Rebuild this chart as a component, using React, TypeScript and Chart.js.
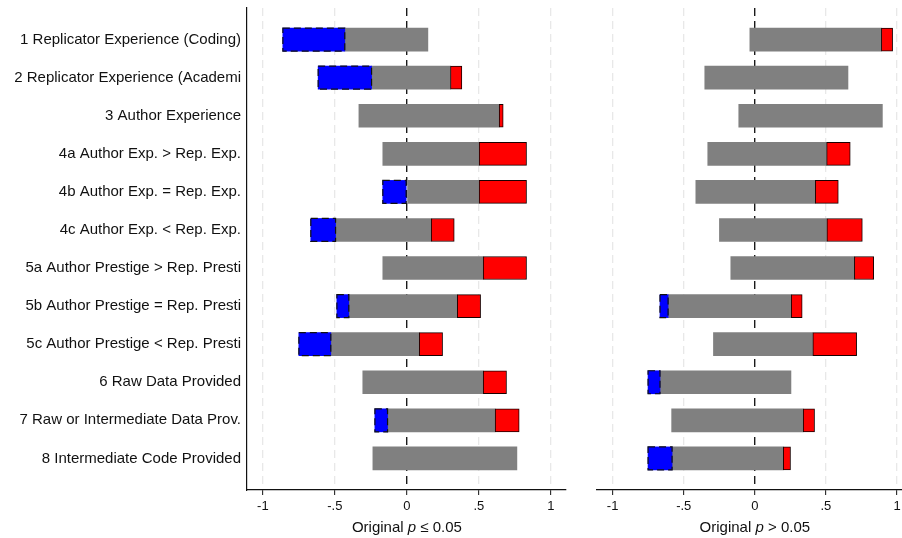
import React, { useEffect, useRef } from "react";
import { Chart, registerables } from "chart.js";

Chart.register(...registerables);

type Range = [number, number] | null;

const categories = [
  "1 Replicator Experience (Coding)",
  "2 Replicator Experience (Academi",
  "3 Author Experience",
  "4a Author Exp. > Rep. Exp.",
  "4b Author Exp. = Rep. Exp.",
  "4c Author Exp. < Rep. Exp.",
  "5a Author Prestige > Rep. Presti",
  "5b Author Prestige = Rep. Presti",
  "5c Author Prestige < Rep. Presti",
  "6 Raw Data Provided",
  "7 Raw or Intermediate Data Prov.",
  "8 Intermediate Code Provided",
];

const xTickValues = [-1, -0.5, 0, 0.5, 1];
const xTickLabels = ["-1", "-.5", "0", ".5", "1"];

// Left panel: Original p <= 0.05
const leftGray: Range[] = [
  [-0.431, 0.146], [-0.245, 0.303], [-0.333, 0.641], [-0.167, 0.502],
  [0.0, 0.502], [-0.495, 0.169], [-0.167, 0.53], [-0.403, 0.35],
  [-0.528, 0.086], [-0.306, 0.53], [-0.134, 0.613], [-0.236, 0.764],
];
const leftBlue: Range[] = [
  [-0.861, -0.431], [-0.616, -0.245], null, null,
  [-0.167, 0.0], [-0.667, -0.495], null, [-0.486, -0.403],
  [-0.75, -0.528], null, [-0.222, -0.134], null,
];
const leftRed: Range[] = [
  null, [0.303, 0.382], [0.641, 0.669], [0.502, 0.831],
  [0.502, 0.831], [0.169, 0.329], [0.53, 0.831], [0.35, 0.512],
  [0.086, 0.248], [0.53, 0.692], [0.613, 0.78], null,
];

// Right panel: Original p > 0.05
const rightGray: Range[] = [
  [-0.035, 0.89], [-0.352, 0.655], [-0.113, 0.897], [-0.331, 0.505],
  [-0.415, 0.425], [-0.249, 0.507], [-0.169, 0.7], [-0.61, 0.256],
  [-0.291, 0.408], [-0.667, 0.254], [-0.585, 0.34], [-0.582, 0.2],
];
const rightBlue: Range[] = [
  null, null, null, null,
  null, null, null, [-0.667, -0.61],
  null, [-0.751, -0.667], null, [-0.751, -0.582],
];
const rightRed: Range[] = [
  [0.89, 0.969], null, null, [0.505, 0.671],
  [0.425, 0.587], [0.507, 0.756], [0.7, 0.836], [0.256, 0.333],
  [0.408, 0.716], null, [0.34, 0.42], [0.2, 0.251],
];

const FONT = "'Liberation Sans', Helvetica, Arial, sans-serif";

const toPoints = (arr: Range[]) =>
  arr
    .map((r, i) => (r ? { y: i + 1, x: r } : null))
    .filter((p) => p !== null);

const dashedBluePlugin = {
  id: "dashedBlue",
  afterDatasetsDraw(chart: any) {
    const ctx = chart.ctx;
    chart.data.datasets.forEach((ds: any, di: number) => {
      if (ds.label !== "blue") return;
      const meta = chart.getDatasetMeta(di);
      meta.data.forEach((el: any) => {
        const { x, y, base, height } = el.getProps(["x", "y", "base", "height"], true);
        const l = Math.min(x, base);
        const r = Math.max(x, base);
        ctx.save();
        ctx.strokeStyle = "#111";
        ctx.lineWidth = 1.2;
        ctx.setLineDash([7, 4]);
        ctx.strokeRect(l, y - height / 2, r - l, height);
        ctx.restore();
      });
    });
  },
};

const titlePlugin = {
  id: "mixedTitle",
  afterDraw(chart: any, _args: any, opts: any) {
    const ctx = chart.ctx;
    const xs = chart.scales.x;
    const cx = xs.getPixelForValue(0);
    const y = 528;
    const normal = `15px ${FONT}`;
    const italic = `italic 15px ${FONT}`;
    ctx.save();
    ctx.fillStyle = "#111";
    ctx.textBaseline = "middle";
    ctx.textAlign = "left";
    ctx.font = normal;
    const w1 = ctx.measureText(opts.pre).width;
    const w3 = ctx.measureText(opts.post).width;
    ctx.font = italic;
    const w2 = ctx.measureText(opts.it).width;
    let x = cx - (w1 + w2 + w3) / 2;
    ctx.font = normal;
    ctx.fillText(opts.pre, x, y);
    x += w1;
    ctx.font = italic;
    ctx.fillText(opts.it, x, y);
    x += w2;
    ctx.font = normal;
    ctx.fillText(opts.post, x, y);
    ctx.restore();
  },
};

function makeConfig(
  gray: Range[],
  blue: Range[],
  red: Range[],
  left: boolean,
  xMax: number,
  post: string
): any {
  return {
    type: "bar",
    data: {
      datasets: [
        {
          label: "blue",
          data: toPoints(blue),
          backgroundColor: "#0000ff",
          borderWidth: 0,
          order: 1,
        },
        {
          label: "red",
          data: toPoints(red),
          backgroundColor: "#ff0000",
          borderColor: "#1a0000",
          borderWidth: 1,
          borderSkipped: false,
          order: 1,
        },
        {
          label: "gray",
          data: toPoints(gray),
          backgroundColor: "#808080",
          borderWidth: 0,
          order: 2,
        },
      ],
    },
    plugins: [dashedBluePlugin, titlePlugin],
    options: {
      indexAxis: "y",
      animation: false,
      responsive: false,
      maintainAspectRatio: false,
      devicePixelRatio: 1,
      layout: {
        padding: { top: 8, right: left ? 14 : 0, left: 0, bottom: 0 },
      },
      datasets: {
        bar: { grouped: false, barThickness: 23 },
      },
      plugins: {
        legend: { display: false },
        tooltip: { enabled: false },
        mixedTitle: { pre: "Original ", it: "p", post },
      },
      scales: {
        x: {
          type: "linear",
          min: -1.11,
          max: xMax,
          offset: false,
          afterBuildTicks: (s: any) => {
            s.ticks = xTickValues.map((v) => ({ value: v }));
          },
          afterFit: (s: any) => {
            s.height = 48;
            s.paddingLeft = 0;
            s.paddingRight = 0;
          },
          ticks: {
            autoSkip: false,
            maxRotation: 0,
            padding: 4,
            color: "#111",
            font: { family: FONT, size: 13 },
            callback: (v: number) => {
              const i = xTickValues.indexOf(v);
              return i >= 0 ? xTickLabels[i] : "";
            },
          },
          grid: {
            display: true,
            drawOnChartArea: true,
            drawTicks: true,
            tickLength: 5,
            tickColor: "#111",
            tickWidth: 1,
            color: (c: any) => (c.tick && c.tick.value === 0 ? "#1a1a1a" : "#e8e8e8"),
            lineWidth: (c: any) => (c.tick && c.tick.value === 0 ? 1.4 : 1.3),
          },
          border: { display: true, color: "#111", width: 1.2, dash: [8, 5] },
        },
        y: {
          type: "linear",
          reverse: true,
          offset: false,
          min: 0.17,
          max: 12.83,
          afterBuildTicks: (s: any) => {
            s.ticks = categories.map((_, i) => ({ value: i + 1 }));
          },
          afterFit: (s: any) => {
            s.width = left ? 247 : 17;
            s.paddingTop = 0;
            s.paddingBottom = 0;
          },
          ticks: {
            display: left,
            autoSkip: false,
            padding: 6,
            color: "#111",
            font: { family: FONT, size: 15 },
            callback: (v: number) => categories[Math.round(v) - 1] ?? "",
          },
          grid: { display: false, drawTicks: false, offset: false },
          border: { display: left, color: "#111", width: 1.2 },
        },
      },
    },
  };
}

function Panel(props: {
  left: number;
  width: number;
  cfg: () => any;
}) {
  const ref = useRef<HTMLCanvasElement | null>(null);
  useEffect(() => {
    if (!ref.current) return;
    const chart = new Chart(ref.current, props.cfg());
    return () => chart.destroy();
  }, []);
  return (
    <canvas
      ref={ref}
      width={props.width}
      height={538}
      style={{
        position: "absolute",
        left: props.left,
        top: 0,
        width: props.width,
        height: 538,
      }}
    />
  );
}

export default function App() {
  return (
    <div
      style={{
        position: "fixed",
        left: 0,
        top: 0,
        width: 902,
        height: 538,
        background: "#ffffff",
        overflow: "hidden",
      }}
    >
      <Panel
        left={0}
        width={580}
        cfg={() => makeConfig(leftGray, leftBlue, leftRed, true, 1.105, " ≤ 0.05")}
      />
      <Panel
        left={580}
        width={322}
        cfg={() => makeConfig(rightGray, rightBlue, rightRed, false, 1.035, " > 0.05")}
      />
    </div>
  );
}
